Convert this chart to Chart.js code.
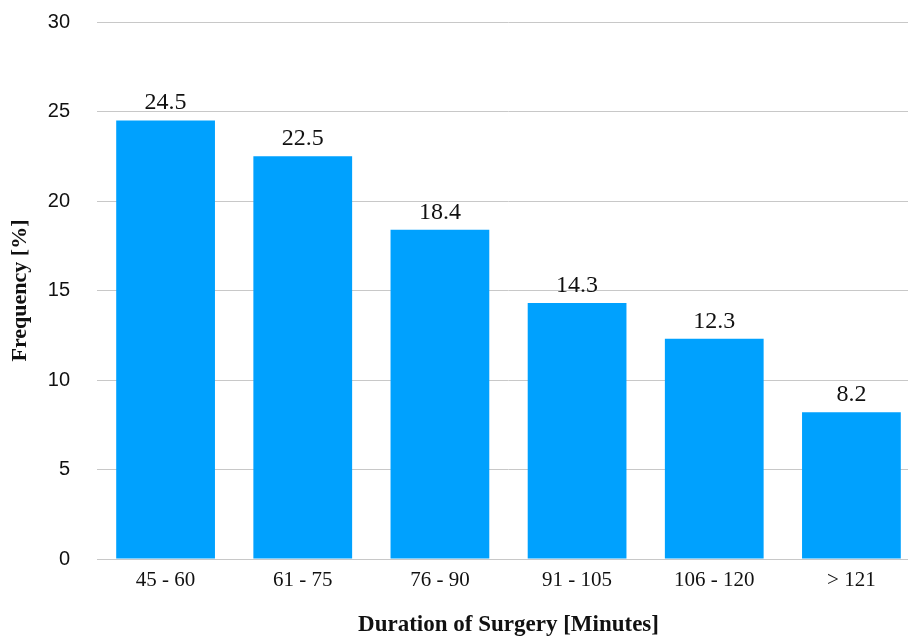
<!DOCTYPE html>
<html>
<head>
<meta charset="utf-8">
<script src="https://cdn.jsdelivr.net/npm/chart.js@4"></script>
<style>
  html, body { margin: 0; padding: 0; background: #fff; overflow: hidden; }
  #wrap { width: 908px; height: 637px; overflow: hidden; }
</style>
</head>
<body>
<div id="wrap"><canvas id="myChart" width="922" height="637"></canvas></div>
<script>
const durations = ['45 - 60', '61 - 75', '76 - 90', '91 - 105', '106 - 120', '> 121'];
const frequency = [24.5, 22.5, 18.4, 14.3, 12.3, 8.2];
const yTicks = [0, 5, 10, 15, 20, 25, 30];

// write each bar's value just above it
const valueLabels = {
    id: 'valueLabels',
    afterDatasetsDraw(chart) {
        const ctx = chart.ctx;
        const meta = chart.getDatasetMeta(0);
        ctx.save();
        ctx.font = '24px "Liberation Serif", serif';
        ctx.fillStyle = '#111';
        ctx.textAlign = 'center';
        ctx.textBaseline = 'alphabetic';
        meta.data.forEach((bar, i) => {
            ctx.fillText(frequency[i].toFixed(1), bar.x, bar.y - 11);
        });
        ctx.restore();
    }
};

const ctx = document.getElementById('myChart').getContext('2d');
const myChart = new Chart(ctx, {
    type: 'bar',
    data: {
        labels: durations,
        datasets: [{
            data: frequency,
            backgroundColor: '#00a1fe',
            borderWidth: 0,
            categoryPercentage: 1,
            barPercentage: 0.72
        }]
    },
    options: {
        responsive: false,
        animation: false,
        layout: { padding: { top: 22, left: 9, right: 2, bottom: 0 } },
        plugins: {
            legend: { display: false },
            tooltip: { enabled: false }
        },
        scales: {
            x: {
                afterFit(scale) { scale.height = 78; },
                grid: { display: false, drawTicks: false },
                border: { display: true, color: '#c8c8c8', width: 1 },
                ticks: {
                    color: '#111',
                    padding: 9,
                    font: { family: '"Liberation Serif", serif', size: 21 }
                },
                title: {
                    display: true,
                    text: 'Duration of Surgery [Minutes]',
                    color: '#111',
                    font: { family: '"Liberation Serif", serif', size: 23, weight: 'bold', lineHeight: 1 },
                    padding: { top: 0, bottom: 0 }
                }
            },
            y: {
                min: 0,
                max: 30,
                afterFit(scale) {
                    scale.width = 88;
                    scale.paddingTop = 0;
                    scale.paddingBottom = 0;
                },
                afterBuildTicks(axis) {
                    axis.ticks = yTicks.map(v => ({ value: v }));
                },
                grid: { color: '#c8c8c8', drawTicks: false },
                border: { display: false },
                ticks: {
                    color: '#111',
                    padding: 27,
                    font: { family: '"Liberation Sans", sans-serif', size: 20 }
                },
                title: {
                    display: true,
                    text: 'Frequency [%]',
                    color: '#111',
                    font: { family: '"Liberation Serif", serif', size: 22, weight: 'bold', lineHeight: 1 },
                    padding: { top: 0, bottom: 0 }
                }
            }
        }
    },
    plugins: [valueLabels]
});
</script>
</body>
</html>
